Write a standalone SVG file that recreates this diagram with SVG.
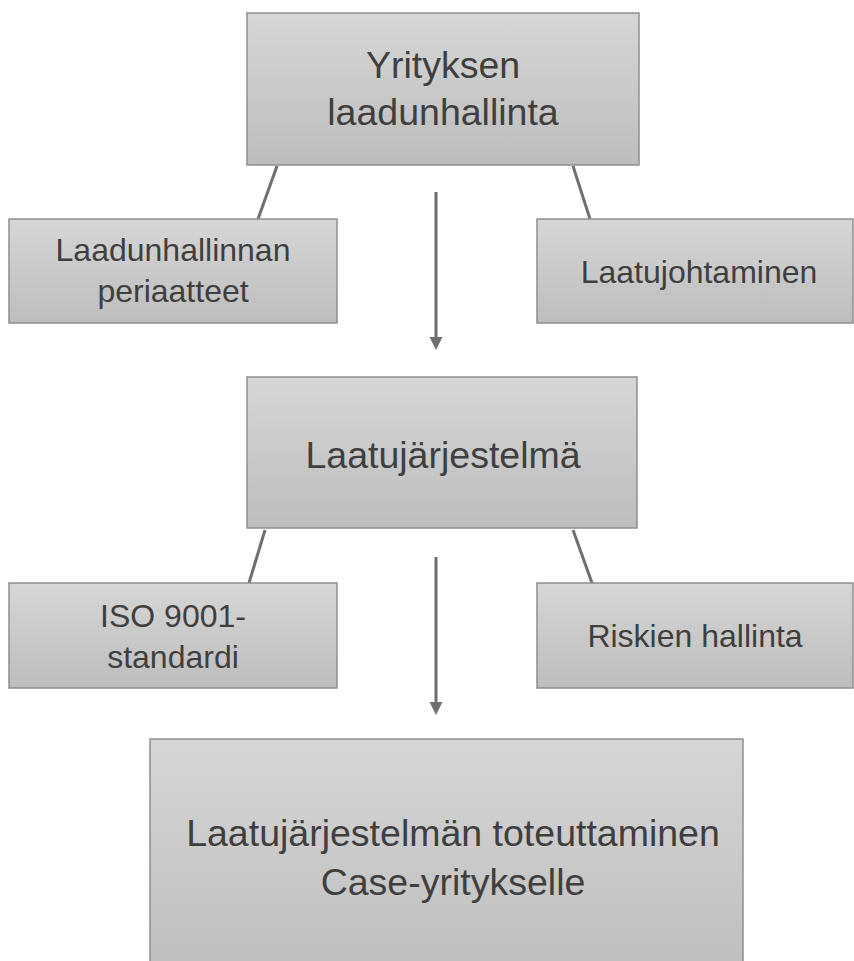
<svg xmlns="http://www.w3.org/2000/svg" width="854" height="961" viewBox="0 0 854 961">
<style>
.box{fill:url(#g);stroke:#8f8f8f;stroke-width:1.5}
.t{font-family:"Liberation Sans",Arial,sans-serif;fill:#3f3f3f;text-anchor:middle}
.big{font-size:37.5px}
.sm{font-size:32px}
.ln{stroke:#6f6f6f;stroke-width:3;fill:none}
.ah{fill:#6f6f6f}
</style>
<defs>
<linearGradient id="g" x1="0" y1="0" x2="0" y2="1">
<stop offset="0" stop-color="#d6d6d6"/>
<stop offset="1" stop-color="#bdbdbd"/>
</linearGradient>
</defs>
<rect width="854" height="961" fill="#fff"/>
<g id="connectors">
<line class="ln" x1="277" y1="166" x2="258" y2="219"/>
<line class="ln" x1="573" y1="166" x2="590" y2="219"/>
<line class="ln" x1="436" y1="192" x2="436" y2="339"/>
<polygon class="ah" points="429.5,337 442.5,337 436,350"/>
<line class="ln" x1="265" y1="530" x2="249" y2="583"/>
<line class="ln" x1="573" y1="530" x2="592" y2="583"/>
<line class="ln" x1="436" y1="557" x2="436" y2="704"/>
<polygon class="ah" points="429.5,702 442.5,702 436,715"/>
</g>
<g id="n1">
<rect class="box" x="247" y="13" width="392" height="152"/>
<text class="t big" x="443" y="78">Yrityksen</text>
<text class="t big" x="443" y="125">laadunhallinta</text>
</g>
<g id="n2">
<rect class="box" x="9" y="219" width="328" height="104"/>
<text class="t sm" x="173" y="261">Laadunhallinnan</text>
<text class="t sm" x="173" y="302">periaatteet</text>
</g>
<g id="n3">
<rect class="box" x="537" y="219" width="316" height="104"/>
<text class="t sm" x="699" y="283">Laatujohtaminen</text>
</g>
<g id="n4">
<rect class="box" x="247" y="377" width="390" height="151"/>
<text class="t big" x="443" y="468">Laatujärjestelmä</text>
</g>
<g id="n5">
<rect class="box" x="9" y="583" width="328" height="105"/>
<text class="t sm" x="173" y="627">ISO 9001-</text>
<text class="t sm" x="173" y="668">standardi</text>
</g>
<g id="n6">
<rect class="box" x="537" y="583" width="316" height="105"/>
<text class="t sm" x="695" y="647">Riskien hallinta</text>
</g>
<g id="n7">
<rect class="box" x="150" y="739" width="593" height="240"/>
<text class="t big" x="453" y="846">Laatujärjestelmän toteuttaminen</text>
<text class="t big" x="453" y="895">Case-yritykselle</text>
</g>
</svg>
